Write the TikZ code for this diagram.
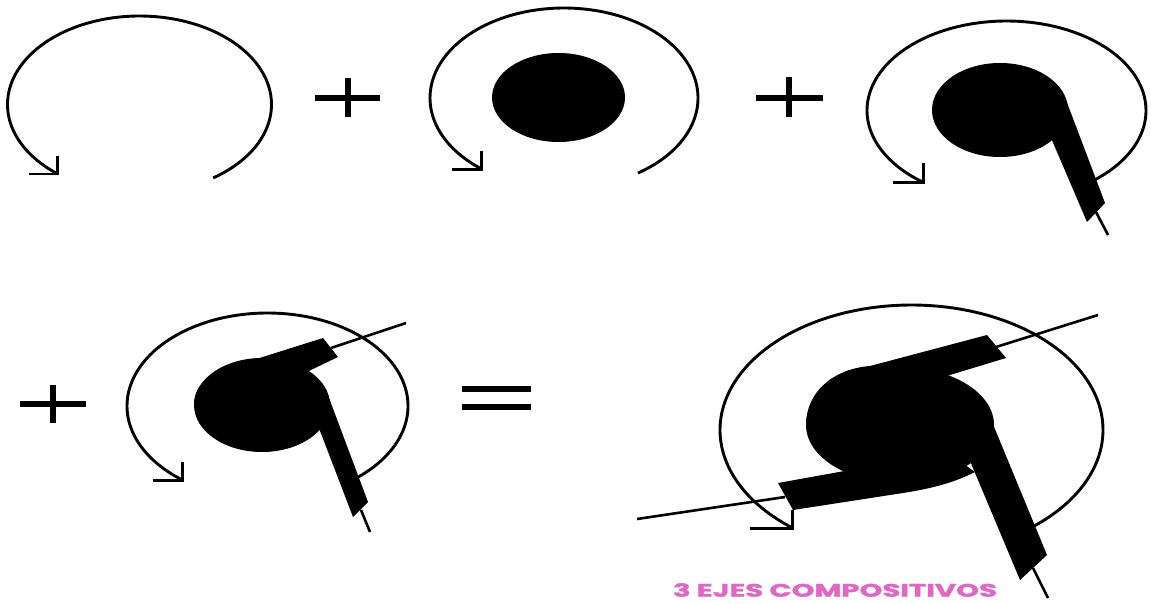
\documentclass[tikz,border=0pt]{standalone}
\usepackage{fontspec}
\newfontfamily\titlefont{Poppins}[BoldFeatures={FakeBold=1.5}]
\definecolor{tpink}{RGB}{224,104,196}
\begin{document}
\begin{tikzpicture}[x=1pt, y=1pt, yscale=-1,
  rot/.style={line width=2.9pt, line join=miter},
  axisline/.style={line width=2.6pt},
  sym/.style={line width=5.5pt},
  blk/.style={fill=black}]
\useasboundingbox (0,0) rectangle (1151,604);

% ---------- shape 1: rotation arc only
\draw[rot] plot[domain=56.1:-231.8, samples=140, variable=\t] ({139.5+132*cos(\t)},{104.5+88.5*sin(\t)});
\coordinate (t1) at ({139.5+132*cos(-231.8)},{104.5+88.5*sin(-231.8)});
\draw[rot] (t1) ++(-29,0) -- (t1) -- ++(0,-18);

% plus 1
\draw[sym] (315,98) -- (380,98);
\draw[sym] (348,78) -- (348,117);

% ---------- shape 2: arc + body
\draw[rot] plot[domain=56.5:-232.2, samples=140, variable=\t] ({564+134*cos(\t)},{98+90*sin(\t)});
\coordinate (t2) at ({564+134*cos(-232.2)},{98+90*sin(-232.2)});
\draw[rot] (t2) ++(-30,0) -- (t2) -- ++(0,-18);
\fill[blk] (558.5,97.5) ellipse [x radius=66.5, y radius=44.5];

% plus 2
\draw[sym] (756,98) -- (823,98);
\draw[sym] (789,77) -- (789,117);

% ---------- shape 3: arc + body + handle
\draw[rot] plot[domain=53:-233.5, samples=140, variable=\t] ({1006.5+139.5*cos(\t)},{110.5+89.5*sin(\t)});
\coordinate (t3) at ({1006.5+139.5*cos(-233.5)},{110.5+89.5*sin(-233.5)});
\draw[rot] (t3) ++(-31,0) -- (t3) -- ++(0,-19);
\draw[axisline] (1096,212) -- (1108,235);
\fill[blk] (1000,110) ellipse [x radius=68, y radius=47];
\fill[blk] (1039,110) -- (1066,100) -- (1105,203) -- (1087,222) -- cycle;

% plus 3
\draw[sym] (20,404) -- (86,404);
\draw[sym] (53,385) -- (53,423);

% ---------- shape 4: arc + body + handle + upper bar
\draw[rot] plot[domain=52:-232.9, samples=140, variable=\t] ({267.5+140.5*cos(\t)},{406+93*sin(\t)});
\coordinate (t4) at ({267.5+140.5*cos(-232.9)},{406+93*sin(-232.9)});
\draw[rot] (t4) ++(-30,0) -- (t4) -- ++(0,-18);
\draw[axisline] (331,348) -- (406,323);
\draw[axisline] (361,510) -- (370,532);
\fill[blk] (262,405) ellipse [x radius=68, y radius=47];
\fill[blk] (323,338) -- (338,357) -- (290,380) -- (262,405) -- (194,405)
  .. controls (194,381) and (218,366) .. (250,361) -- cycle;
\fill[blk] (326,390) -- (368,502) -- (353,517) -- (307,397) -- cycle;

% equal sign
\draw[sym] (462,389) -- (531,389);
\draw[sym] (462,407) -- (531,407);

% ---------- final shape
\draw[rot] plot[domain=52:-231.7, samples=180, variable=\t] ({911.5+191.5*cos(\t)},{430+125*sin(\t)});
\coordinate (t5) at ({911.5+191.5*cos(-231.7)},{430+125*sin(-231.7)});
\draw[rot] (t5) ++(-43,0) -- (t5) -- ++(0,-18);
\draw[axisline] (996,347) -- (1098,315);
\draw[axisline] (785,497) -- (637,519);
\draw[axisline] (1033,568) -- (1048,598);
\fill[blk] (900,425) ellipse [x radius=94, y radius=58];
\fill[blk] (987,335) -- (1006,358) -- (940,378) -- (900,425) -- (806,425)
  .. controls (806,393) and (832,369) .. (870,366) -- cycle;
\fill[blk] (778,483) -- (793,510) -- (903,493) .. controls (935,488) and (955,482) .. (975,472) -- (930,440) -- (850,470) -- cycle;
\fill[blk] (985,405) -- (1047,555) -- (1020,580) -- (957,430) -- cycle;

% caption
\node[text=tpink, inner sep=0pt] (caption) at (835,590)
  {\resizebox{324pt}{13.5pt}{\titlefont\bfseries 3 EJES COMPOSITIVOS}};
\end{tikzpicture}
\end{document}
